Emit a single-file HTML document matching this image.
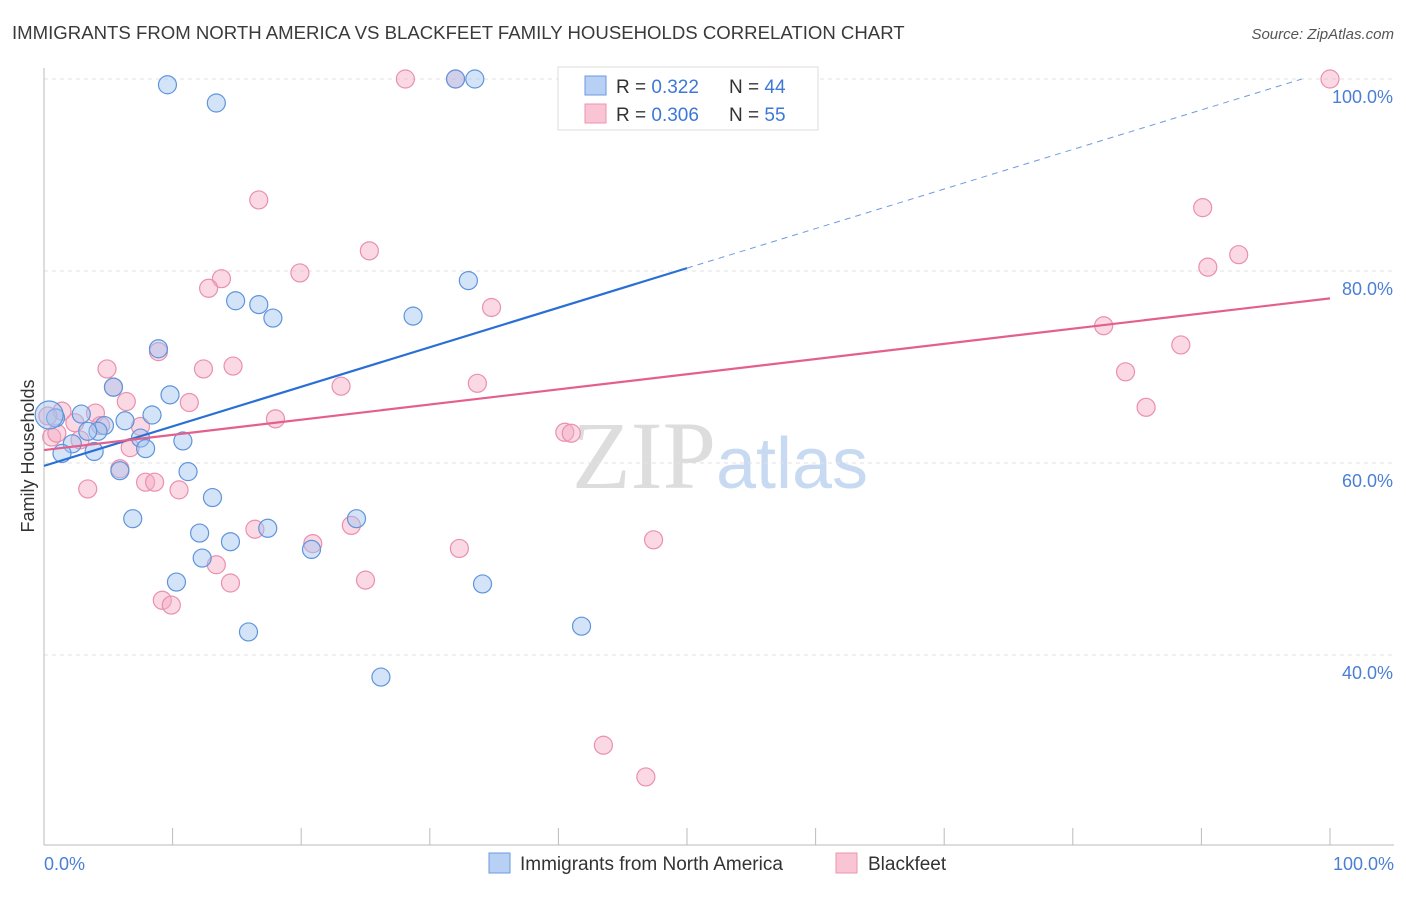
<!DOCTYPE html>
<html><head><meta charset="utf-8"><style>
body{margin:0;background:#fff;font-family:"Liberation Sans",sans-serif}
</style></head><body>
<svg id="chart" width="1406" height="892" xmlns="http://www.w3.org/2000/svg" style="font-family:'Liberation Sans',sans-serif">
<text x="12" y="39" font-size="18.6" fill="#3a3a3a">IMMIGRANTS FROM NORTH AMERICA VS BLACKFEET FAMILY HOUSEHOLDS CORRELATION CHART</text>
<text x="1394" y="39" font-size="15" fill="#555" text-anchor="end" font-style="italic">Source: ZipAtlas.com</text>
<text x="720" y="488" font-size="96" text-anchor="middle" fill="#ddd" font-family="Liberation Serif, serif">ZIP<tspan fill="#c8daf2" font-family="Liberation Sans, sans-serif" font-size="72">atlas</tspan></text>
<g id="grid"></g>
<line x1="44" y1="68" x2="44" y2="845" stroke="#bbb"/>
<line x1="44" y1="845" x2="1394" y2="845" stroke="#bbb"/>
<text transform="translate(34,456) rotate(-90)" font-size="18" fill="#333" text-anchor="middle">Family Households</text>
<text x="44" y="870" font-size="18" fill="#4a7fd4">0.0%</text>
<text x="1394" y="870" font-size="18" fill="#4a7fd4" text-anchor="end">100.0%</text>
<g id="marks"></g>
<g id="lines"></g>
<g>
<rect x="558" y="67" width="260" height="63" fill="#fff" stroke="#ddd"/>
<rect x="585" y="76" width="21" height="19" fill="#b7d0f3" stroke="#6b9ae0"/>
<rect x="585" y="104" width="21" height="19" fill="#f9c5d4" stroke="#ee93b0"/>
<text x="616" y="93" font-size="19" fill="#333">R = <tspan fill="#3d78d8">0.322</tspan></text>
<text x="729" y="93" font-size="19" fill="#333">N = <tspan fill="#3d78d8">44</tspan></text>
<text x="616" y="121" font-size="19" fill="#333">R = <tspan fill="#3d78d8">0.306</tspan></text>
<text x="729" y="121" font-size="19" fill="#333">N = <tspan fill="#3d78d8">55</tspan></text>
</g>
<g>
<rect x="489" y="853" width="21" height="20" fill="#b7d0f3" stroke="#6b9ae0"/>
<text x="520" y="870" font-size="19" fill="#333">Immigrants from North America</text>
<rect x="836" y="853" width="21" height="20" fill="#f9c5d4" stroke="#ee93b0"/>
<text x="868" y="870" font-size="19" fill="#333">Blackfeet</text>
</g>
</svg>
<script>
const yTicks=[40,60,80,100];
const xTicks=[0,10,20,30,40,50,60,70,80,90,100];
const blueX=[9.6,13.4,32.0,33.5,14.9,16.7,17.8,28.7,33.0,8.9,9.8,5.4,8.4,6.3,2.9,4.7,0.9,4.2,3.4,7.5,10.8,7.9,2.2,1.4,3.9,5.9,11.2,13.1,6.9,12.1,14.5,17.4,24.3,20.8,12.3,10.3,34.1,15.9,41.8,26.2,0.4];
const blueY=[99.4,97.5,100,100,76.9,76.5,75.1,75.3,79.0,71.9,67.1,67.9,65.0,64.4,65.1,63.9,64.7,63.3,63.3,62.6,62.3,61.5,62.0,61.0,61.2,59.2,59.1,56.4,54.2,52.7,51.8,53.2,54.2,51.0,50.1,47.6,47.4,42.4,43.0,37.7,65.0];
const blueR=[9,9,9,9,9,9,9,9,9,9,9,9,9,9,9,9,9,9,9,9,9,9,9,9,9,9,9,9,9,9,9,9,9,9,9,9,9,9,9,9,14];
const pinkX=[28.1,32.0,100,16.7,25.3,19.9,13.8,12.8,34.8,90.1,90.5,92.9,82.4,88.4,84.1,85.7,8.9,4.9,12.4,14.7,5.4,33.7,23.1,6.4,11.3,4.0,1.4,18.0,7.5,4.4,2.4,0.6,2.8,6.7,40.5,41.0,5.9,7.9,8.6,10.5,3.4,16.4,20.9,23.9,32.3,47.4,13.4,25.0,14.5,9.2,9.9,43.5,46.8,0.3,1.0];
const pinkY=[100,100,100,87.4,82.1,79.8,79.2,78.2,76.2,86.6,80.4,81.7,74.3,72.3,69.5,65.8,71.6,69.8,69.8,70.1,67.9,68.3,68.0,66.4,66.3,65.2,65.4,64.6,63.8,63.9,64.2,62.7,62.4,61.6,63.2,63.1,59.4,58.0,58.0,57.2,57.3,53.1,51.6,53.5,51.1,52.0,49.4,47.8,47.5,45.7,45.2,30.6,27.3,64.9,63.1];
const blueLine=[59.7,0.412];
const pinkLine=[61.35,0.158];
const ns="http://www.w3.org/2000/svg";
const X=v=>44+v*12.86, Y=v=>79+(100-v)*9.6;
const grid=document.getElementById('grid'),marks=document.getElementById('marks'),lines=document.getElementById('lines');
function mk(t,a,p){const e=document.createElementNS(ns,t);for(const k in a)e.setAttribute(k,a[k]);p.appendChild(e);return e;}
yTicks.forEach(t=>{
 const l=mk('line',{x1:44,x2:1394,y1:Y(t),y2:Y(t),stroke:'#e2e2e2','stroke-dasharray':'4,4'},grid);
 
 
 const tx=mk('text',{x:1393,y:Y(t)+24,'font-size':18,fill:'#4a7fd4','text-anchor':'end'},grid);
 tx.textContent=t.toFixed(1)+'%';
 
 
});
xTicks.forEach(t=>{
 const l=mk('line',{x1:X(t),x2:X(t),y1:828,y2:845,stroke:'#bbb'},grid);
 
 
});
pinkX.forEach((v,i)=>{
 const c=mk('circle',{cx:X(v),cy:Y(pinkY[i]),r:9,fill:'rgba(245,170,195,0.45)',stroke:'#eb8fae','stroke-width':1.2},marks);
 
 
});
blueX.forEach((v,i)=>{
 const c=mk('circle',{cx:X(v),cy:Y(blueY[i]),r:blueR[i],fill:'rgba(160,195,240,0.45)',stroke:'#5f94dc','stroke-width':1.2},marks);
 
 
});
const b1=mk('line',{x1:X(0),y1:Y(blueLine[0]),x2:X(50),y2:Y(blueLine[0]+50*blueLine[1]),stroke:'#2a6fd6','stroke-width':2.2},lines);


const bEnd=(100-blueLine[0])/blueLine[1];
const b2=mk('line',{x1:X(50),y1:Y(blueLine[0]+50*blueLine[1]),x2:X(bEnd),y2:Y(100),stroke:'#6d9be0','stroke-width':1,'stroke-dasharray':'6,5'},lines);


const p1=mk('line',{x1:X(0),y1:Y(pinkLine[0]),x2:X(100),y2:Y(pinkLine[0]+100*pinkLine[1]),stroke:'#e4608c','stroke-width':2.2},lines);


</script>
</body></html>
